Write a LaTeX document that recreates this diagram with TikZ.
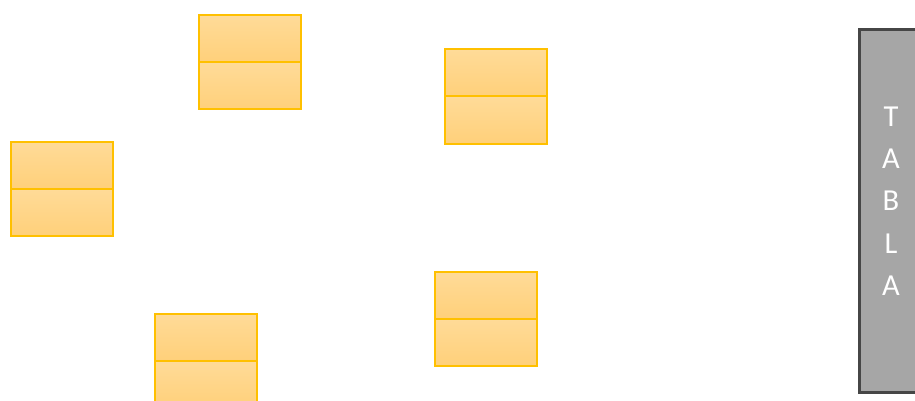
\documentclass[tikz,border=0pt]{standalone}
\usepackage{fontspec}
\setmainfont{Carlito}
\begin{document}
\begin{tikzpicture}[x=1pt,y=-1pt,
  cell/.style={draw={rgb,255:red,255;green,192;blue,0}, line width=2pt,
    top color={rgb,255:red,255;green,219;blue,152}, bottom color={rgb,255:red,255;green,208;blue,122},
    minimum width=102pt, minimum height=47pt, inner sep=0pt, anchor=north west},
  tabla/.style={draw={rgb,255:red,70;green,70;blue,70}, line width=2.2pt, fill={rgb,255:red,166;green,166;blue,166}}]
\useasboundingbox (0,0) rectangle (915,401);
\begin{scope}
\clip (0,0) rectangle (915,401);
% box A
\node[cell] (a1) at (197.5,14.5) {};
\node[cell] (a2) at (197.5,61.5) {};
% box B
\node[cell] (b1) at (443.5,48.5) {};
\node[cell] (b2) at (443.5,95.5) {};
% box C
\node[cell] (c1) at (9.5,140.5) {};
\node[cell] (c2) at (9.5,187.5) {};
% box D
\node[cell] (d1) at (153.5,312.5) {};
\node[cell] (d2) at (153.5,359.5) {};
% box E
\node[cell] (e1) at (433.5,270.5) {};
\node[cell] (e2) at (433.5,317.5) {};
% table
\draw[tabla] (859.5,29.5) rectangle (930,392.5);
\node[text=white, font=\fontsize{30.5}{42.3}\selectfont, align=center] (t) at (891,201) {T\\A\\B\\L\\A};
\end{scope}
\end{tikzpicture}
\end{document}
